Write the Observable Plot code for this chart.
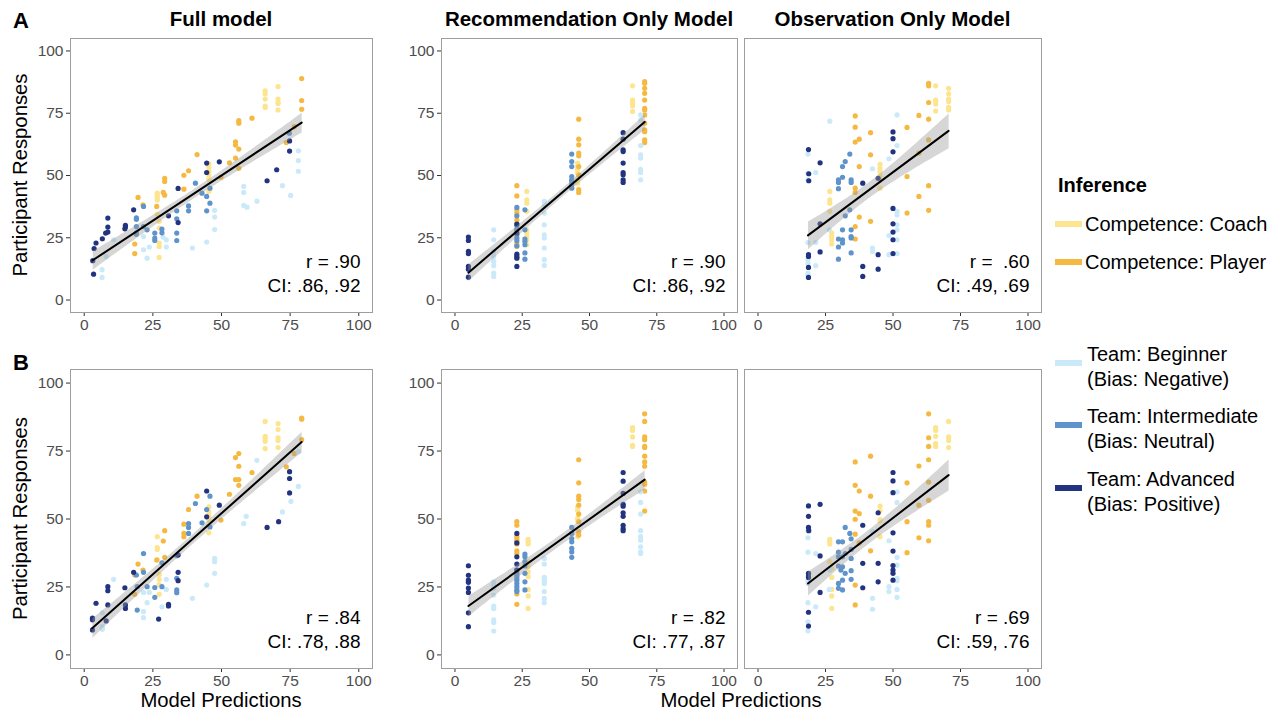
<!DOCTYPE html>
<html>
<head>
<meta charset="utf-8">
<script src="https://cdn.jsdelivr.net/npm/d3@7"></script>
<script src="https://cdn.jsdelivr.net/npm/@observablehq/plot@0.6"></script>
<style>
  html, body { margin: 0; padding: 0; background: white; }
  #wrap { position: relative; width: 1286px; height: 713px; overflow: hidden; font-family: "Liberation Sans", Arial, Helvetica, sans-serif; }
  #wrap > svg { position: absolute; }
</style>
</head>
<body>
<div id="wrap"></div>
<script>
// ---------- categories ----------
const catKeys = ["C", "P", "B", "I", "A"];
const catColors = ["#FDE48E", "#F5B942", "#CAE9F9", "#5F93CB", "#22337F"];
const legendTop = ["Competence: Coach", "Competence: Player"];
const legendTeam = [["Team: Beginner", "(Bias: Negative)"], ["Team: Intermediate", "(Bias: Neutral)"], ["Team: Advanced", "(Bias: Positive)"]];
const panelTitles = ["Full model", "Recommendation Only Model", "Observation Only Model"];
const rowLetters = ["A", "B"];
const axisTicks = [0, 25, 50, 75, 100];
const rLabels = ["r = .90", "r = .90", "r =\u00a0 .60", "r = .84", "r = .82", "r = .69"];
const ciLabels = ["CI: .86, .92", "CI: .86, .92", "CI: .49, .69", "CI: .78, .88", "CI: .77, .87", "CI: .59, .76"];
const xLabel = "Model Predictions";
const yLabel = "Participant Responses";

// ---------- data: each row is [model prediction, participant response(s)...] ----------
// Row A, Full model
const A_full_coach = [[26.6,42.9,42,41,40.2,34.4],[27.3,31.6,28.9,22.9,21.5,17.1],[45.4,54.7,53.3,51.6,50,48.3,43.6],[65.9,84,82.8,80.7,77.9,77.3],[70.6,85.7,80.7,79.4,78.9,76.3]];
const A_full_player = [[18.4,18.6,22.5],[19.6,41.2],[21.4,38.2],[26.4,37.6],[28.8,43.2],[29.3,42.1,48.9,47.6],[36.3,50.1,44.5],[38,51.9],[41.1,58.4],[49.8,49.3],[52.9,55.1],[55.1,57,63.5,62.2],[56.3,72,71,60.6,52.9],[61.1,73],[73.6,63.2],[76.5,69.6],[79.2,88.9,80.1,76.6]];
const A_full_beginner = [[6.5,12.2,9.1],[8,17.5],[10.7,24.2],[21.6,20.2,25.5],[22.9,16.8],[23.7,21.3],[29.9,21.3,24.2],[28.7,25.3],[39.4,20.9],[44.6,23.3],[47.5,36,33.3,28.3],[58.1,45.6,43.2,38],[59.3,37.3],[62.9,39.7],[72.2,45.9],[75.2,42],[78,59.9,56,51.7]];
const A_full_intermediate = [[19,33,32.4,29.5,27,26.4],[21.6,37.6,29.5],[22.9,28.2],[25.7,26.9,24.9,23.9],[28.3,28.5,27],[33.7,26.9,23.9,35.8,32.6],[38,37.8,35.8],[40.5,46.9],[42.9,42.9],[44.6,41.6,35.8],[45.8,38.9,44.9],[74.7,67]];
const A_full_advanced = [[3.4,10.4],[3.1,15.8],[3.6,20.7],[4.3,22.9],[6.6,24.6],[7.8,26.9],[8.6,27.3,29.3,32.9],[14.8,28.6],[15,29.3,30],[18,36.2],[30.7,33.8],[34.2,44.8,31.1],[44.6,51.2,55],[49.2,55.5],[70.1,52.3],[66.6,47.9],[74.8,59.8,63.9]];
// Row A, Recommendation only model
const A_rec_coach = [[26.7,43.6,40.2,38.9,35.6,28.2,26.9,25.5,24.2,22.2],[45.6,55,53.6,52.3,50.9,48.9,48.3,46.9],[66,86,80.3,79.7,79,77.9,75.7]];
const A_rec_player = [[23,45.9,41.8,36.2,34.9,32.2,30.6,28.2,22.9,21.5],[46,72.6,64.6,62.3,59,57.9,53.6,50.3,44.3,43.2],[70.5,87.7,87,85,83,80.3,77,76.3,74.3,71,68.3,67.6,64.3,63.2]];
const A_rec_beginner = [[14.4,28.2,24.2,19.5,17.5,15.5,13.8,10.8,9.5],[33.2,39.6,38.2,34.9,30.2,26.2,24.9,20.9,16.2,13.9],[69,74.3,72.3,62,58.3,57,52.5,51.2,48.3]];
const A_rec_intermediate = [[23,37.2,33.8,29.8,28.2,26.2,24.9,23.9,21.8],[26,36.2,28.2,24.5,23.5,22.2,18.9,16.4],[43.4,58.6,55.6,53.6,49.6,48.3,47.6,46.3,44.9]];
const A_rec_advanced = [[5,25.3,23.9,19.5,18.6,13.5,12.4,9.2],[23,30.5,26.9,18.4,17.5,16.8,13.5],[62.5,67.2,64.6,60.3,59.6,55,51.2,50.3,48.3,47.2]];
// Row A, Observation only model
const A_obs_coach = [[26.6,43.6,40.2,38.9,35.6],[27.3,26.9,25.5,24.2,22.5],[45.2,54.5,52.9,51.6,49.9,48.3,44.9],[65.8,86,80.3,79.7,78.7,75.9],[70.6,85,82.8,80.7,79.7,77.4,76.3]];
const A_obs_player = [[36,73.9,69.4,63.4,44.9,43.2,29.5,24.5],[37.5,64.6,53.6,33.3],[41.7,67.2,58.3,31.6],[55.2,69.3,49.6,34.9],[59.6,74.1,59,41.6],[63.2,87,86,79.3,72.6,64.3,45.9,36]];
const A_obs_beginner = [[18.5,58.6,50.9,48.3,23.1,16.2,14.8,10.8,9.8],[21.4,51.2,23.1,13.8],[26.6,71.8],[26.4,28.2],[42.4,52.7,20.9,19.5],[48.5,56.7,25.9,18.2],[51.5,74.3,62,35.6,34.2,30.2,28.2,24.2,18.6]];
const A_obs_intermediate = [[29.8,48.3,47.2,44.7,24.5,21.3,16.4],[31.3,53.6,49.3,28.2,24.2,22.9],[32.3,55.6,33.8],[34,58.6,36.2],[34.5,48.3,47.2,28.2,25.5,24.9,18.9]];
const A_obs_advanced = [[18.7,60.4,18.2,17.5,13.1,9.1],[18.8,50.7,47.9],[23,55.1,30.6,19.3],[38.8,46.9,13.5,9.5],[44.5,48.9,18.2,12.4],[50,67.5,64.8,59.5,36.8,30.6,27.3,24.2,18.6]];
// Row B, Full model
const B_full_coach = [[26.6,43.5,39.5,38.8,35.1],[27.3,29.6,27.8,25.9,22.3],[45.4,54.5,52.6,51,49.6,44.9],[65.9,85.9,80.4,79.6,78.6,75.9],[70.6,85.1,82.9,79.9,78.9,76.3]];
const B_full_player = [[18.4,29.4,22.3],[19.6,33.4],[21.4,31.2],[26.4,34.9],[28.8,41.9],[29.3,45.7,35.9],[36.3,48.1,44.7,43.5],[38,53.5],[41.1,58.4],[49.8,49.6],[52.9,59.1],[55.1,72.6,64.5],[56.3,74.1,69.4,64.5,62.4],[61.1,67.1],[73.6,69.2],[76.5,74.1],[79.2,87.1,86.7,79.2]];
const B_full_beginner = [[6.6,15.5,10.4,9.4],[10.7,27.8],[21.6,23,15.9,13.7],[22.9,19.2],[23.7,23],[28.3,17.7],[29.9,27.8,24.1],[39.4,20.8],[44.6,25.7],[47.5,35.5,34.3,30],[58.1,48.3],[59,51],[62.9,71.6],[72.2,52.6],[75.3,56.5],[78,62,74.7]];
const B_full_intermediate = [[19,29.4],[19.3,25.1,16.5],[21.6,37.3,30.4],[22.9,25.1],[25.7,24.8,21.2],[28.3,33.9,25.1],[33.7,28.2,23.9,22.9,36.5],[38,48.3,46.9,44.7],[40.5,55.7],[42.9,48.6],[44.6,53.5],[45.8,58.4,47.1]];
const B_full_advanced = [[3,9.2,13.5,12.9],[4.3,19],[8.6,25.1,23.6,18.4],[8,12.5],[14.8,24.7],[15,18.4,17.1],[18,30.4],[27.1,13.2],[30.7,18.6,18],[34.2,30.4,27.3,36.8],[44.6,60.3,50.8],[49.2,55.1],[66.6,46.9],[70.8,49],[74.8,67.4,64.9,59.6]];
// Row B, Recommendation only model
const B_rec_coach = [[27.2,42.5,41.6,40.8,34.3,32.4,30.6,28.8,24.1,21.7,17.1],[45.6,54.5,53.2,50.2,49.3,43.5],[66,83.6,82.6,80.2,77.1,76.7]];
const B_rec_player = [[23,49,47.7,43.5,42.5,41.6,40.8,38.3,37.3,22.4,18.6],[46,71.8,63.3,58.4,57.2,55.1,51.8,49,45.3,44.1],[70.5,88.7,85.9,80.2,79.2,76.7,76.3,73.1,71,69.4,63.6,62.8,60.3,52.9]];
const B_rec_beginner = [[14.4,26.9,25.7,24.5,22,18,17.1,12.9,11.9,8.8],[33.2,35.5,33.4,28.5,27.5,26.3,23.3,20.8,19.2],[69,60,56.1,51.8,45.7,43.5,42.2,39.8,37.9,37.3]];
const B_rec_intermediate = [[23,31.2,30,29.4,28.5,27.5,26.3,25.1,23.9,23.3],[26,37.1,36.1,34.3,32.7,30,26.9,23.9],[43.4,46.9,44.7,42.8,41.6,39.2,37.9,35.9]];
const B_rec_advanced = [[5,32.8,29.3,27.5,26.7,24.6,23,15.5,10.4],[23,44.7,41.2,36.1,33.4,31.2],[62.5,67.1,63.9,59.4,55.4,54.7,52.3,51,47.7,46.5,45.7]];
// Row B, Observation only model
const B_obs_coach = [[26.6,42.5,41.6,40.8,34.3],[27.3,31.8,28.5,24.1,21.7,17.1],[45.2,54.7,53,49.8,49.3,43.5],[65.8,83.6,82.6,80.4,77.7,76.7],[70.6,85.9,80.2,78.9,76.3]];
const B_obs_player = [[36,71,62.4,52.9,49.9,44.4,25.7,18.4],[37.5,60.3,52,41.2],[41.7,73.1,58.4,38.3],[55.2,63.3,49,37.6],[59.6,69.5,55.1,43.1],[63.2,88.7,79.9,76.7,71.8,63.6,56.9,49,47.7,42]];
const B_obs_beginner = [[18.5,45.7,43.1,37.8,27.3,26.3,19.2,12.2,8.9],[21.4,37.3,17.7],[26.6,31.2],[26.4,24.1],[42.4,45.3,20.8,16.8],[48.5,42,25.1,23.3],[51.5,60,56.1,35.9,33,28.2,27.3,24.1,21.2]];
const B_obs_intermediate = [[29.8,41.6,37.8,36.1,32.7,26.3,24.5],[30.7,31.2],[31.3,41.6,36.1,32.4,27.5,23.9],[32.3,46.9,37.3,30],[34,44.7],[34.5,42.7,38.8,35.5,31,27.8]];
const B_obs_advanced = [[18.7,54.8,51,46.9,30,29,28.5,15.7,10.6],[18.8,45.7],[23,55.4,36.4,23],[38.8,47.7,33.7,24.7],[44.5,52.3,33.7,26.9],[50,67.1,64,59.7,44.9,38.2,32.9,31.2,30,27.5]];

// ---------- build tables ----------
function expand(cat, rows) {
  return rows.flatMap(([x, ...ys]) => ys.map(y => ({cat, x, y})));
}
function table(coach, player, beginner, intermediate, advanced) {
  return [
    ...expand("C", coach), ...expand("P", player), ...expand("B", beginner),
    ...expand("I", intermediate), ...expand("A", advanced)
  ];
}
const panelData = [
  table(A_full_coach, A_full_player, A_full_beginner, A_full_intermediate, A_full_advanced),
  table(A_rec_coach, A_rec_player, A_rec_beginner, A_rec_intermediate, A_rec_advanced),
  table(A_obs_coach, A_obs_player, A_obs_beginner, A_obs_intermediate, A_obs_advanced),
  table(B_full_coach, B_full_player, B_full_beginner, B_full_intermediate, B_full_advanced),
  table(B_rec_coach, B_rec_player, B_rec_beginner, B_rec_intermediate, B_rec_advanced),
  table(B_obs_coach, B_obs_player, B_obs_beginner, B_obs_intermediate, B_obs_advanced)
];

// ---------- layout ----------
const colLeft = [70, 441, 744], colW = [302, 296, 297];
const rowTop = [38, 369], rowH = [274, 299];
const ML = 46, MR = 4, MT = 4, MB = 32;
const FONT = '"Liberation Sans", Arial, Helvetica, sans-serif';
const wrap = document.getElementById("wrap");

for (let i = 0; i < 6; i++) {
  const r = Math.floor(i / 3), c = i % 3;
  const w = colW[c], h = rowH[r];
  const showY = c < 2;
  const yScale = {domain: [-5, 105], label: null};
  if (!showY) yScale.axis = null;
  const chart = Plot.plot({
    width: ML + w + MR,
    height: MT + h + MB,
    marginLeft: ML, marginRight: MR, marginTop: MT, marginBottom: MB,
    x: {domain: [-5, 105], label: null},
    y: yScale,
    color: {domain: catKeys, range: catColors},
    style: {fontFamily: FONT, fontSize: "15.5px", color: "#4d4d4d", background: "transparent", overflow: "visible"},
    marks: [
      Plot.axisX(axisTicks, {tickSize: 4, tickPadding: 2, label: null, stroke: "#333333", fill: "#4d4d4d"}),
      showY ? Plot.axisY(axisTicks, {tickSize: 4, tickPadding: 3, label: null, stroke: "#333333", fill: "#4d4d4d"}) : null,
      Plot.dot(panelData[i], {x: "x", y: "y", fill: "cat", r: 2.6}),
      Plot.linearRegressionY(panelData[i], {x: "x", y: "y", stroke: "black", strokeWidth: 2, fill: "#999999", fillOpacity: 0.4, ci: 0.95}),
      Plot.frame({stroke: "#9e9e9e", strokeWidth: 1}),
      Plot.text([rLabels[i]], {frameAnchor: "bottom-right", textAnchor: "end", dx: -12, dy: -45, fill: "black", fontSize: 19}),
      Plot.text([ciLabels[i]], {frameAnchor: "bottom-right", textAnchor: "end", dx: -12, dy: -21, fill: "black", fontSize: 19})
    ]
  });
  chart.style.left = (colLeft[c] - ML) + "px";
  chart.style.top = (rowTop[r] - MT) + "px";
  wrap.appendChild(chart);
}

// ---------- annotation layer (titles, labels, legend) ----------
const ann = d3.select(wrap).append("svg")
  .attr("width", 1286).attr("height", 713)
  .style("left", "0px").style("top", "0px")
  .style("pointer-events", "none")
  .attr("font-family", FONT);

// row letters
ann.selectAll("text.letter").data(rowLetters).join("text")
  .attr("x", 13).attr("y", (d, k) => [28, 370][k])
  .attr("font-size", 22).attr("font-weight", "bold").attr("fill", "black").text(d => d);

// panel titles
ann.selectAll("text.title").data(panelTitles).join("text")
  .attr("x", (d, k) => colLeft[k] + colW[k] / 2).attr("y", 26)
  .attr("text-anchor", "middle").attr("font-size", 20.5).attr("font-weight", "bold").attr("fill", "black").text(d => d);

// y labels
[0, 1].forEach(r => {
  const cy = rowTop[r] + rowH[r] / 2;
  ann.append("text").attr("transform", `translate(27,${cy}) rotate(-90)`)
    .attr("text-anchor", "middle").attr("font-size", 20.3).attr("fill", "black").text(yLabel);
});
// x labels
ann.append("text").attr("x", colLeft[0] + colW[0] / 2).attr("y", 707)
  .attr("text-anchor", "middle").attr("font-size", 20.3).attr("fill", "black").text(xLabel);
ann.append("text").attr("x", (colLeft[1] + colLeft[2] + colW[2]) / 2).attr("y", 707)
  .attr("text-anchor", "middle").attr("font-size", 20.3).attr("fill", "black").text(xLabel);

// legend
ann.append("text").attr("x", 1058).attr("y", 192).attr("font-size", 20).attr("font-weight", "bold").attr("fill", "black").text("Inference");
const topY = [224, 262];
legendTop.forEach((t, k) => {
  ann.append("rect").attr("x", 1055).attr("y", topY[k] - 3).attr("width", 27).attr("height", 6).attr("fill", catColors[k]);
  ann.append("text").attr("x", 1085).attr("y", topY[k] + 7).attr("font-size", 20).attr("fill", "black").text(t);
});
const teamY = [363, 425, 488];
legendTeam.forEach((t, k) => {
  ann.append("rect").attr("x", 1055).attr("y", teamY[k] - 3).attr("width", 27).attr("height", 6).attr("fill", catColors[k + 2]);
  ann.append("text").attr("x", 1087).attr("y", teamY[k] - 2).attr("font-size", 20).attr("fill", "black").text(t[0]);
  ann.append("text").attr("x", 1087).attr("y", teamY[k] + 23).attr("font-size", 20).attr("fill", "black").text(t[1]);
});
</script>
</body>
</html>
